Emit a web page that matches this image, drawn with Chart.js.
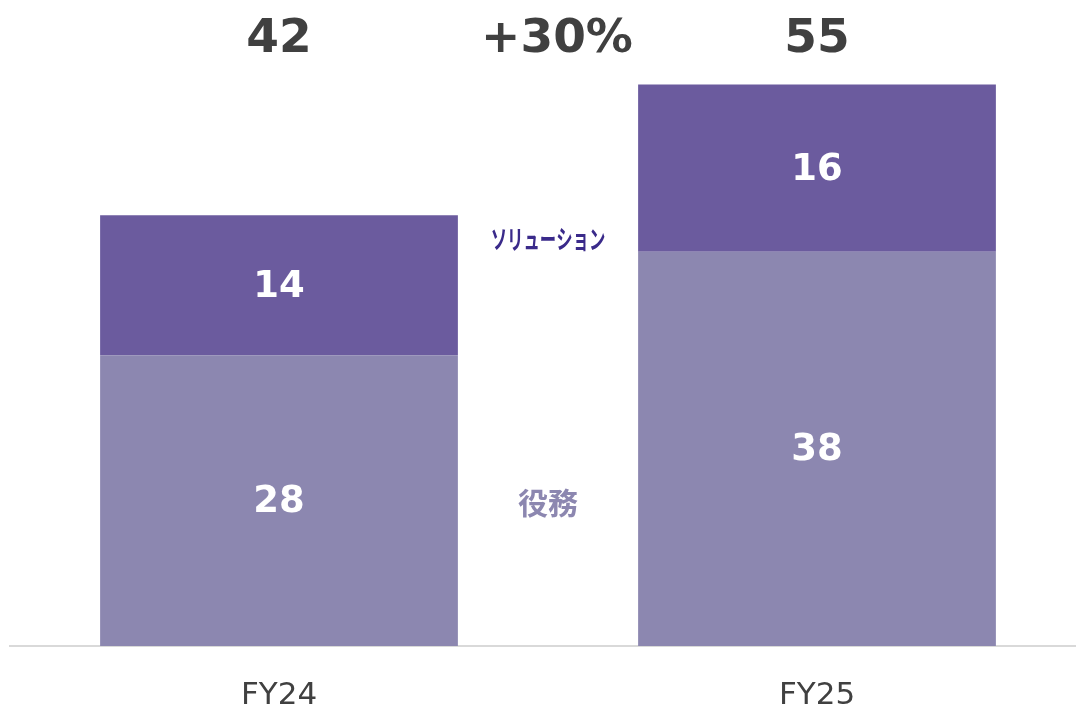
<!DOCTYPE html>
<html>
<head>
<meta charset="utf-8">
<script src="https://cdn.jsdelivr.net/npm/chart.js"></script>
<style>
  html, body { margin: 0; padding: 0; background: #fff; overflow: hidden; }
  #wrap { width: 1086px; height: 706px; position: relative; }
</style>
</head>
<body>
<div id="wrap"><canvas id="chart"></canvas></div>
<script>
const categories = ['FY24', 'FY25'];
const serviceValues = [28.0, 38.0];   // 役務 (bar heights)
const solutionValues = [13.5, 16.1];  // ソリューション (bar heights)
const serviceLabels = [28, 38];
const solutionLabels = [14, 16];
const totals = [42, 55];
const growthLabel = '+30%';
const seriesNames = ['役務', 'ソリューション'];

const LIGHT = '#8C87B0';
const DARK = '#6B5B9E';

const overlay = {
  id: 'overlay',
  afterDatasetsDraw(chart) {
    const { ctx, scales: { x, y } } = chart;
    const segLabels = [serviceLabels, solutionLabels];
    ctx.save();
    ctx.textAlign = 'center';
    ctx.textBaseline = 'middle';

    // values inside segments
    ctx.fillStyle = '#ffffff';
    ctx.font = 'bold 37px "DejaVu Sans"';
    chart.data.datasets.forEach((ds, di) => {
      chart.getDatasetMeta(di).data.forEach((bar, i) => {
        const mid = (bar.y + bar.base) / 2 + 2;
        ctx.fillText(String(segLabels[di][i]), bar.x, mid);
      });
    });

    // totals and growth
    ctx.fillStyle = '#404040';
    ctx.font = 'bold 47px "DejaVu Sans"';
    const topY = y.getPixelForValue(58.4);
    totals.forEach((t, i) => {
      ctx.fillText(String(t), x.getPixelForValue(i), topY);
    });
    const midX = (x.getPixelForValue(0) + x.getPixelForValue(1)) / 2;
    ctx.fillText(growthLabel, midX + 9, topY);

    // series labels
    ctx.fillStyle = '#3A2A8A';
    ctx.font = 'bold 26px "Noto Sans CJK JP"';
    ctx.save();
    ctx.translate(midX, y.getPixelForValue(39.2));
    ctx.scale(0.63, 1);
    ctx.fillText(seriesNames[1], 0, 0);
    ctx.restore();

    ctx.fillStyle = LIGHT;
    ctx.font = 'bold 30px "Noto Sans CJK JP"';
    ctx.fillText(seriesNames[0], midX, y.getPixelForValue(13.8));
    ctx.restore();
  }
};

new Chart(document.getElementById('chart'), {
  type: 'bar',
  data: {
    labels: categories,
    datasets: [
      { label: seriesNames[0], data: serviceValues, backgroundColor: LIGHT,
        barPercentage: 1, categoryPercentage: 0.665 },
      { label: seriesNames[1], data: solutionValues, backgroundColor: DARK,
        barPercentage: 1, categoryPercentage: 0.665 }
    ]
  },
  options: {
    responsive: true,
    maintainAspectRatio: false,
    animation: false,
    layout: { padding: { left: 10, right: 0, top: 0, bottom: 0 } },
    plugins: { legend: { display: false }, tooltip: { enabled: false } },
    scales: {
      x: {
        stacked: true,
        grid: { display: false },
        border: { display: true, color: '#D9D9D9', width: 2 },
        ticks: {
          color: '#404040',
          padding: 23,
          font: { family: '"DejaVu Sans"', size: 31 }
        },
        afterFit(scale) { scale.height = 60; }
      },
      y: {
        stacked: true,
        display: false,
        min: 0,
        max: 62.25
      }
    }
  },
  plugins: [overlay]
});
</script>
</body>
</html>
